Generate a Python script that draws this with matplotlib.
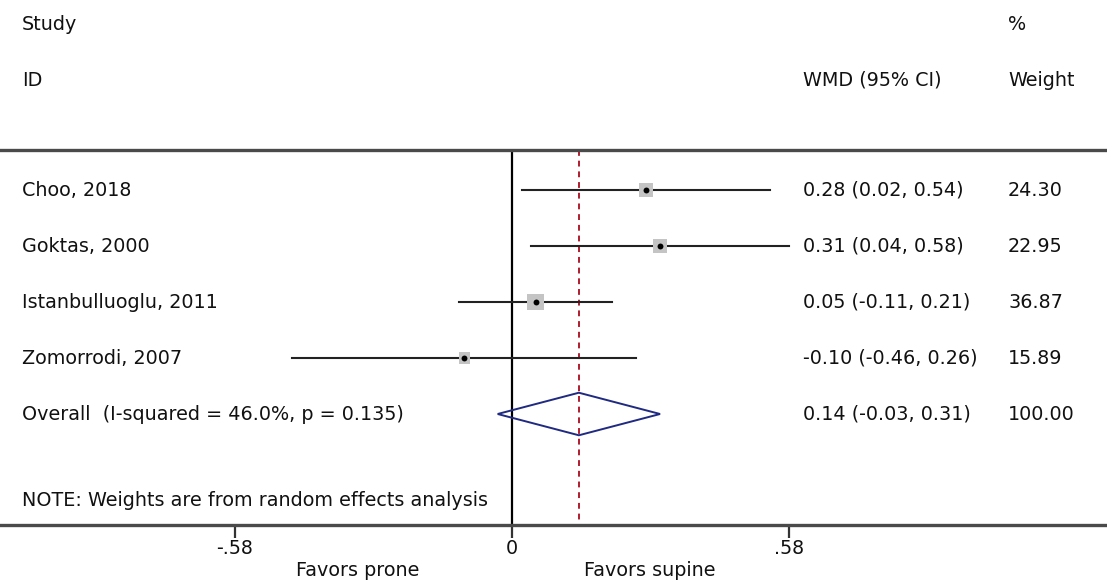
import matplotlib
matplotlib.use("Agg")
import matplotlib.pyplot as plt
from matplotlib.patches import Polygon
from matplotlib.transforms import blended_transform_factory

plt.rcParams['font.family'] = ['DejaVu Sans']

studies = ["Choo, 2018", "Goktas, 2000", "Istanbulluoglu, 2011", "Zomorrodi, 2007"]
wmd = [0.28, 0.31, 0.05, -0.10]
ci_lo = [0.02, 0.04, -0.11, -0.46]
ci_hi = [0.54, 0.58, 0.21, 0.26]
weights = [24.30, 22.95, 36.87, 15.89]
overall_label = "Overall  (I-squared = 46.0%, p = 0.135)"
overall_est, overall_lo, overall_hi = 0.14, -0.03, 0.31
overall_weight = 100.00
xticks = [-0.58, 0, 0.58]
xticklabels = ["-.58", "0", ".58"]

W, H = 1107, 581
fig = plt.figure(figsize=(W / 100, H / 100), dpi=100)
ax = fig.add_axes([0.0, 1 - 525 / H, 1.0, (525 - 150) / H])

px_per_unit = 477.6
x0_px = 512
ax.set_xlim(-x0_px / px_per_unit, (W - x0_px) / px_per_unit)
row_px = 56.0
row1_px = 190
ax.set_ylim(1 + (525 - row1_px) / row_px, 1 + (150 - row1_px) / row_px)

fs = 13.8
tc = "#111111"

for s in ["left", "right"]:
    ax.spines[s].set_visible(False)
for s in ["top", "bottom"]:
    ax.spines[s].set_color("#4a4a4a")
    ax.spines[s].set_linewidth(2.4)
ax.set_yticks([])
ax.set_xticks(xticks)
ax.set_xticklabels(xticklabels, fontsize=fs, color=tc)
ax.tick_params(axis="x", length=9, width=1.6, color="#333333", pad=1)

rows = list(range(1, len(studies) + 1))
ov_row = len(studies) + 1

# reference lines
ax.axvline(0, color="black", lw=1.6, zorder=1)
ax.plot([overall_est, overall_est], [ax.get_ylim()[1], ax.get_ylim()[0]],
        color="#b01c2e", lw=1.4, ls=(0, (3, 2.5)), zorder=1)

# study CIs and boxes
for r, e, lo, hi, w in zip(rows, wmd, ci_lo, ci_hi, weights):
    ax.plot([lo, hi], [r, r], color="#222222", lw=1.5, zorder=2)
ax.scatter(wmd, rows, s=[w * 4.0 for w in weights], marker="s",
           color="#c4c4c4", zorder=3, linewidths=0)
ax.scatter(wmd, rows, s=18, marker="o", color="black", zorder=4, linewidths=0)

# overall diamond
hh = 0.38
diamond = Polygon([[overall_lo, ov_row], [overall_est, ov_row - hh],
                   [overall_hi, ov_row], [overall_est, ov_row + hh]],
                  closed=True, fill=False, edgecolor="#1f2a80", lw=1.4, zorder=3)
ax.add_patch(diamond)

# text columns
def px_to_x(px):
    return (px - x0_px) / px_per_unit

def py_to_row(py):
    return 1 + (py - row1_px) / row_px

x_name = px_to_x(22)
x_wmd = px_to_x(803)
x_wt = px_to_x(1008)

kw = dict(fontsize=fs, va="center", ha="left", clip_on=False, color=tc)
ax.text(x_name, py_to_row(25), "Study", **kw)
ax.text(x_name, py_to_row(80), "ID", **kw)
ax.text(x_wmd, py_to_row(80), "WMD (95% CI)", **kw)
ax.text(x_wt, py_to_row(25), "%", **kw)
ax.text(x_wt, py_to_row(80), "Weight", **kw)

for r, name, e, lo, hi, w in zip(rows, studies, wmd, ci_lo, ci_hi, weights):
    ax.text(x_name, r, name, **kw)
    ax.text(x_wmd, r, f"{e:.2f} ({lo:.2f}, {hi:.2f})", **kw)
    ax.text(x_wt, r, f"{w:.2f}", **kw)

ax.text(x_name, ov_row, overall_label, **kw)
ax.text(x_wmd, ov_row, f"{overall_est:.2f} ({overall_lo:.2f}, {overall_hi:.2f})", **kw)
ax.text(x_wt, ov_row, f"{overall_weight:.2f}", **kw)

ax.text(x_name, py_to_row(500), "NOTE: Weights are from random effects analysis", **kw)

trans = blended_transform_factory(ax.transData, fig.transFigure)
fig.text(px_to_x(358), 1 - 571 / H, "Favors prone", transform=trans,
         fontsize=fs, ha="center", va="center", color=tc)
fig.text(px_to_x(650), 1 - 571 / H, "Favors supine", transform=trans,
         fontsize=fs, ha="center", va="center", color=tc)

fig.savefig("out.png", dpi=100)
